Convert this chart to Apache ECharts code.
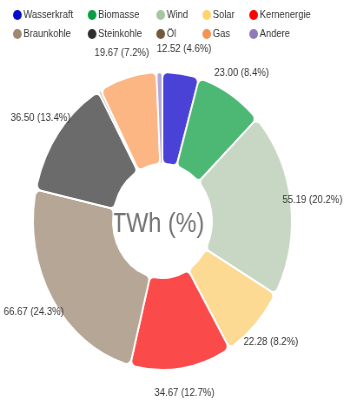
<!DOCTYPE html>
<html>
<head>
<meta charset="utf-8">
<script src="https://cdn.jsdelivr.net/npm/echarts@6/dist/echarts.min.js"></script>
<style>
html,body{margin:0;padding:0;background:#fff;overflow:hidden;}
#chart{width:403px;height:403px;transform:scaleX(0.8685);transform-origin:0 0;}
</style>
</head>
<body>
<div id="chart"></div>
<script>
// ---- data ----
var categories = ['Wasserkraft','Biomasse','Wind','Solar','Kernenergie','Braunkohle','Steinkohle','Öl','Gas','Andere'];
var values = [12.52, 23.00, 55.19, 22.28, 34.67, 66.67, 36.50, 0.9, 19.67, 2.0];
var percentLabels = ['4.6','8.4','20.2','8.2','12.7','24.3','13.4',null,'7.2',null];
var centerText = 'TWh (%)';

// ---- styles ----
var sliceColors = ['#4a42d6','#4cb874','#c8d7c3','#fdda93','#fa4a4a','#b6a695','#6b6b6b','#c0b0a0','#fcb684','#b4a6d6'];
var legendColors = ['#0a0acb','#0a9c43','#a6c6a2','#ffd36f','#ff0000','#9e8a74','#2e2e2e','#735a3f','#f59352','#8f7bb6'];
var legendColumnsLeft = [15, 101, 180, 233, 287];

var FONT = '"Liberation Sans", Arial, sans-serif';
var chart = echarts.init(document.getElementById('chart'), null, {renderer:'canvas'});

var center = [187, 221];

var mainData = categories.map(function(n,i){
  return {name:n, value:values[i], itemStyle:{color:sliceColors[i]}};
});
var labelData = categories.map(function(n,i){
  return {name:n, value:values[i]};
});

var legends = [];
for (var c = 0; c < 5; c++) {
  var items = [c, c+5].map(function(i){
    return {name:categories[i], itemStyle:{color:legendColors[i], opacity:1, borderWidth:0}};
  });
  legends.push({
    orient:'vertical', left:legendColumnsLeft[c], top:9.5, padding:0,
    itemWidth:10, itemHeight:10, itemGap:8, icon:'circle',
    selectedMode:false,
    textStyle:{fontSize:10.8, color:'#333', fontFamily:FONT, padding:[0,0,0,-3]},
    data:items
  });
}

chart.setOption({
  animation:false,
  legend:legends,
  graphic:[{
    type:'text', x:182, y:225, silent:true,
    style:{text:centerText, textAlign:'center', textVerticalAlign:'middle', fill:'#727272', fontSize:27, fontFamily:FONT}
  }],
  series:[
    {
      type:'pie', center:center, radius:[57,149], startAngle:90, clockwise:true,
      avoidLabelOverlap:false, silent:true,
      itemStyle:{borderColor:'#fff', borderWidth:2, borderRadius:6},
      label:{show:false}, labelLine:{show:false},
      data:mainData
    },
    {
      type:'pie', center:center, radius:[161,181], startAngle:90, clockwise:true,
      avoidLabelOverlap:false, silent:true, legendHoverLink:false,
      itemStyle:{color:'rgba(0,0,0,0)', borderWidth:0},
      label:{show:true, position:'inside', fontSize:11, color:'#333', fontFamily:FONT,
        formatter:function(p){
          var pc = percentLabels[p.dataIndex];
          if (pc === null) return '';
          return values[p.dataIndex].toFixed(2) + ' (' + pc + '%)';
        }},
      labelLine:{show:false},
      data:labelData
    }
  ]
});
</script>
</body>
</html>
